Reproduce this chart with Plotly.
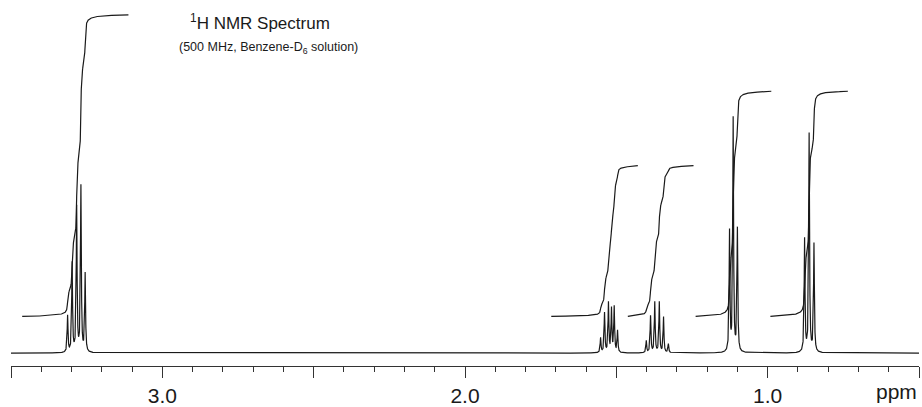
import numpy as np
import plotly.graph_objects as go

# ---- data ----
# peak positions (ppm) and heights (arbitrary intensity units, baseline = 0)
peak_ppm = [3.313, 3.298, 3.283, 3.269, 3.255,
            1.552, 1.539, 1.526, 1.516, 1.507, 1.496,
            1.401, 1.387, 1.373, 1.358, 1.344, 1.328,
            1.126, 1.114, 1.100,
            0.878, 0.863, 0.847]
peak_height = [37, 90, 146, 167, 79,
               15, 40, 50, 44, 46, 22,
               12, 37, 51, 51, 36, 9,
               121, 235, 124,
               114, 220, 109]
line_hwhm = 0.0016  # ppm

# integral regions: start ppm, end ppm, lower level, upper level
integ_start = [3.463, 1.715, 1.462, 1.238, 0.991]
integ_end = [3.112, 1.429, 1.245, 0.988, 0.735]
integ_low = [37, 37, 37, 37, 37]
integ_high = [341, 189, 189, 264, 264]

x_range = [3.5, 0.5]
major_ticks = [3.5, 3.0, 2.5, 2.0, 1.5, 1.0, 0.5]
major_labels = ["", "3.0", "", "2.0", "", "1.0", ""]

# ---- build spectrum ----
grid = np.union1d(np.linspace(0.5, 3.5, 12001), np.array(peak_ppm))
spec = np.zeros_like(grid)
g2 = line_hwhm ** 2
for p, h in zip(peak_ppm, peak_height):
    spec += h * g2 / ((grid - p) ** 2 + g2)

ink = "#1a1a1a"
fig = go.Figure()
fig.add_trace(go.Scatter(x=grid, y=spec, mode="lines",
                         line=dict(color=ink, width=1.2), hoverinfo="skip"))

for s, e, lo, hi in zip(integ_start, integ_end, integ_low, integ_high):
    m = (grid <= s) & (grid >= e)
    xs = grid[m][::-1]          # from high ppm to low ppm
    ys = spec[m][::-1]
    c = np.cumsum(ys)
    c = (c - c[0]) / (c[-1] - c[0])
    fig.add_trace(go.Scatter(x=xs, y=lo + c * (hi - lo), mode="lines",
                             line=dict(color=ink, width=1.2), hoverinfo="skip"))

fig.update_layout(
    width=922, height=407,
    margin=dict(l=11, r=3, t=0, b=38),
    paper_bgcolor="white", plot_bgcolor="white",
    showlegend=False,
    font=dict(family="Liberation Sans, Arial, sans-serif", color=ink),
    xaxis=dict(range=x_range, showgrid=False, zeroline=False,
               showline=True, linecolor="#333", linewidth=1,
               ticks="outside", ticklen=11, tickwidth=1, tickcolor="#333",
               tickvals=major_ticks, ticktext=major_labels,
               tickfont=dict(size=21, color=ink),
               minor=dict(dtick=0.1, tick0=0, ticks="outside", ticklen=5,
                          tickwidth=1, tickcolor="#333", showgrid=False)),
    yaxis=dict(range=[-13, 356], visible=False, showgrid=False, zeroline=False),
    annotations=[
        dict(xref="paper", yref="paper", x=0.195, y=0.94, xanchor="left",
             yanchor="middle", showarrow=False,
             text="<sup>1</sup>H NMR Spectrum", font=dict(size=17, color=ink)),
        dict(xref="paper", yref="paper", x=0.183, y=0.87, xanchor="left",
             yanchor="middle", showarrow=False,
             text="(500 MHz, Benzene-D<sub>6</sub> solution)",
             font=dict(size=12.5, color=ink)),
        dict(xref="paper", yref="paper", x=1.0, y=-0.0705, xanchor="right",
             yanchor="middle", showarrow=False, text="ppm",
             font=dict(size=21, color=ink)),
    ],
)

fig.write_html("out.html",
               config={"displayModeBar": False},
               post_script="document.body.style.margin='0';"
                           "document.body.style.padding='0';")
